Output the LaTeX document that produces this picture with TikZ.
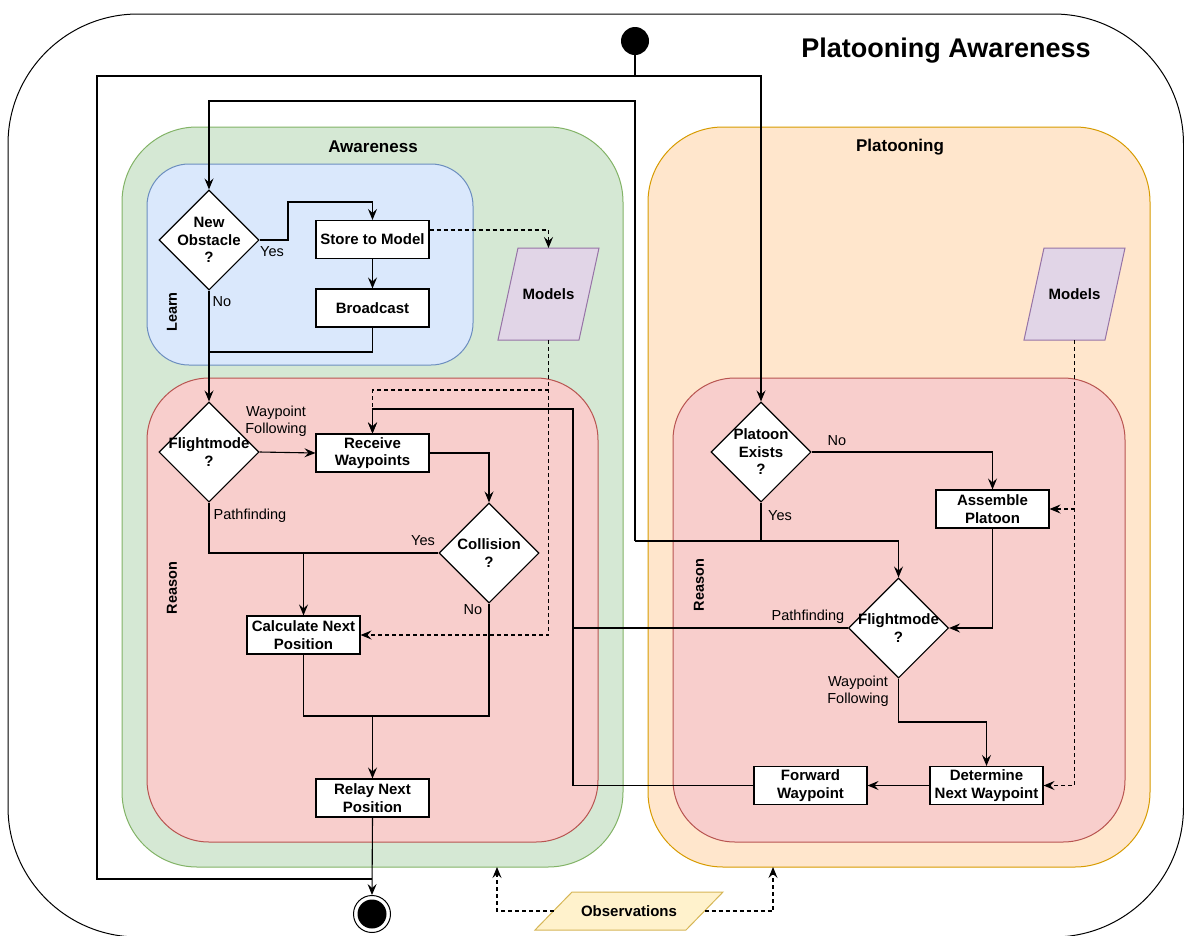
\documentclass[tikz,border=0pt]{standalone}
\usepackage{fontspec}
\setmainfont{Liberation Sans}
\usetikzlibrary{arrows.meta,shapes.geometric,calc}
\definecolor{grfill}{HTML}{D5E8D4}
\definecolor{grline}{HTML}{82B366}
\definecolor{blfill}{HTML}{DAE8FC}
\definecolor{blline}{HTML}{6C8EBF}
\definecolor{rdfill}{HTML}{F8CECC}
\definecolor{rdline}{HTML}{B85450}
\definecolor{orfill}{HTML}{FFE6CC}
\definecolor{orline}{HTML}{D79B00}
\definecolor{pufill}{HTML}{E1D5E7}
\definecolor{puline}{HTML}{9673A6}
\definecolor{yefill}{HTML}{FFF2CC}
\definecolor{yeline}{HTML}{D6B656}
\begin{document}
\begin{tikzpicture}[x=1pt,y=-1pt,
  ln/.style={draw=black,line width=1.1pt},
  arr/.style={ln,-{Stealth[length=11pt,width=9pt,inset=4pt]}},
  darr/.style={arr,dash pattern=on 4pt off 3pt},
  cont/.style={line width=1pt},
  nfont/.style={font=\fontsize{15}{17.5}\selectfont\bfseries},
  lfont/.style={font=\fontsize{14.5}{17.5}\selectfont,align=center,inner sep=0pt},
  stitle/.style={font=\fontsize{17}{20}\selectfont\bfseries,inner sep=0pt},
  rotlbl/.style={font=\fontsize{14.5}{17.5}\selectfont\bfseries,rotate=90,inner sep=0pt},
  box/.style={draw=black,line width=1.1pt,fill=white,minimum width=113pt,minimum height=38pt,inner sep=1pt,align=center,nfont},
  dia/.style={diamond,draw=black,line width=1.1pt,fill=white,minimum width=100pt,minimum height=100pt,inner sep=0pt},
  dtext/.style={nfont,align=center,inner sep=0pt}
]
\useasboundingbox (0,0) rectangle (1184,935);
\clip (0,0) rectangle (1184,935);
% outer frame
\draw[line width=1pt,rounded corners=130pt] (8,14) rectangle (1183.5,937);
% containers
\draw[cont,draw=grline,fill=grfill,rounded corners=75pt] (122,127) rectangle (623,867);
\draw[cont,draw=blline,fill=blfill,rounded corners=42pt] (147,164) rectangle (473,365);
\draw[cont,draw=rdline,fill=rdfill,rounded corners=62pt] (147,378) rectangle (598,842);
\draw[cont,draw=orline,fill=orfill,rounded corners=75pt] (648,127) rectangle (1150,867);
\draw[cont,draw=rdline,fill=rdfill,rounded corners=62pt] (673,378) rectangle (1125,842);
% titles
\node[font=\fontsize{27}{31}\selectfont\bfseries,inner sep=0pt] (title) at (946,51) {Platooning Awareness};
\node[stitle] (awt) at (373,147) {Awareness};
\node[stitle] (plt) at (900,147) {Platooning};
\node[rotlbl] (learn) at (172,312) {Learn};
\node[rotlbl] (reasonL) at (172,588) {Reason};
\node[rotlbl] (reasonR) at (699,585) {Reason};
% data shapes
\draw[cont,draw=puline,fill=pufill] (518,248) -- (599,248) -- (579,340) -- (498,340) -- cycle;
\node[nfont,inner sep=0pt] (modL) at (548.5,294) {Models};
\draw[cont,draw=puline,fill=pufill] (1044,248) -- (1125,248) -- (1105,340) -- (1024,340) -- cycle;
\node[nfont,inner sep=0pt] (modR) at (1074.5,294) {Models};
\draw[cont,draw=yeline,fill=yefill] (572,892) -- (723,892) -- (686,930) -- (535,930) -- cycle;
\node[nfont,inner sep=0pt] (obs) at (629,911) {Observations};
\coordinate (modLtop) at (548.5,248);
\coordinate (modLbot) at (548.5,340);
\coordinate (modRbot) at (1074.5,340);
\coordinate (obsW) at (553.5,911);
\coordinate (obsE) at (704.5,911);
\coordinate (grB) at (497,867);
\coordinate (orB) at (773,867);
% nodes
\node[circle,fill=black,minimum size=28pt,inner sep=0pt] (start) at (635,41) {};
\node[dia,label={[dtext]center:New\\Obstacle\\?}] (newobs) at (209,240) {};
\node[box] (store) at (372.5,239.5) {Store to Model};
\node[box] (bcast) at (372.5,308) {Broadcast};
\node[dia,label={[dtext]center:Flightmode\\?}] (fmL) at (209,452) {};
\node[box] (recv) at (372.5,453) {Receive\\Waypoints};
\node[dia,label={[dtext]center:Collision\\?}] (coll) at (489,553) {};
\node[box] (calc) at (303.5,635) {Calculate Next\\Position};
\node[box] (relay) at (372.5,798) {Relay Next\\Position};
\node[circle,draw=black,line width=1pt,minimum size=37pt,inner sep=0pt] (endc) at (372,914) {};
\node[circle,fill=black,minimum size=29pt,inner sep=0pt] (endin) at (endc.center) {};
\node[dia,label={[dtext]center:Platoon\\Exists\\?}] (plex) at (761,452) {};
\node[box] (assem) at (992.5,509) {Assemble\\Platoon};
\node[dia,label={[dtext]center:Flightmode\\?}] (fmR) at (898.5,628) {};
\node[box] (detn) at (986.5,785.5) {Determine\\Next Waypoint};
\node[box] (fwd) at (810.5,785.5) {Forward\\Waypoint};
% junctions
\coordinate (jTop) at (635,76);
\coordinate (jBot) at (372,879);
\coordinate (jYes) at (303.5,553);
\coordinate (jMerge) at (372.5,716);
\coordinate (jPlx) at (761,541);
\coordinate (jLoop) at (635,541);
\coordinate (jPath) at (573,628);
\coordinate (jDashL) at (548.5,390);
\coordinate (jDashR) at (1074.5,509);
% connectors (solid)
\draw[ln] (start.south) -- (jTop);
\draw[arr] (jTop) -| (plex.north);
\draw[ln] (jTop) -- (97,76) |- (jBot);
\draw[arr] (newobs.east) -- (288,240) |- (372.5,202) -- (store.north);
\draw[arr] (store) -- (bcast);
\draw[ln] (bcast.south) |- (209,352);
\draw[arr] (newobs.south) -- (fmL.north);
\draw[arr] (fmL.east) -- (recv.west);
\draw[arr] (recv.east) -| (coll.north);
\draw[ln] (fmL.south) |- (coll.west);
\draw[arr] (jYes) -- (calc.north);
\draw[ln] (coll.south) |- (jMerge);
\draw[ln] (calc.south) |- (jMerge);
\draw[arr] (jMerge) -- (relay.north);
\draw[arr] (relay.south) -- (endc.north);
\draw[arr] (plex.east) -| (assem.north);
\draw[ln] (plex.south) -- (jPlx);
\draw[arr] (jLoop) -| (fmR.north);
\draw[arr] (jLoop) -- (635,101) -| (newobs.north);
\draw[arr] (assem.south) |- (fmR.east);
\draw[ln] (fmR.west) -- (jPath);
\draw[arr] (fmR.south) -- (898.5,722) -| (detn.north);
\draw[arr] (detn.west) -- (fwd.east);
\draw[arr] (fwd.west) -- (573,785.5) -- (573,409) -| (recv.north);
% dashed
\draw[darr] ([yshift=9.5pt]store.east) -| (modLtop);
\draw[darr] (modLbot) |- (calc.east);
\draw[darr] (jDashL) -| (recv.north);
\draw[darr] (modRbot) |- (detn.east);
\draw[darr] (jDashR) -- (assem.east);
\draw[darr] (obsW) -| (grB);
\draw[darr] (obsE) -| (orB);
% edge labels
\node[lfont] (lYes1) at (272,252) {Yes};
\node[lfont] (lNo1) at (222,302) {No};
\node[lfont] (lWF1) at (276,421) {Waypoint\\Following};
\node[lfont] (lPF1) at (250,516) {Pathfinding};
\node[lfont] (lYes2) at (423,541) {Yes};
\node[lfont] (lNo2) at (473,610) {No};
\node[lfont] (lNo3) at (837,441) {No};
\node[lfont] (lYes3) at (780,516) {Yes};
\node[lfont] (lPF2) at (808,617) {Pathfinding};
\node[lfont] (lWF2) at (858,691) {Waypoint\\Following};
\end{tikzpicture}
\end{document}
